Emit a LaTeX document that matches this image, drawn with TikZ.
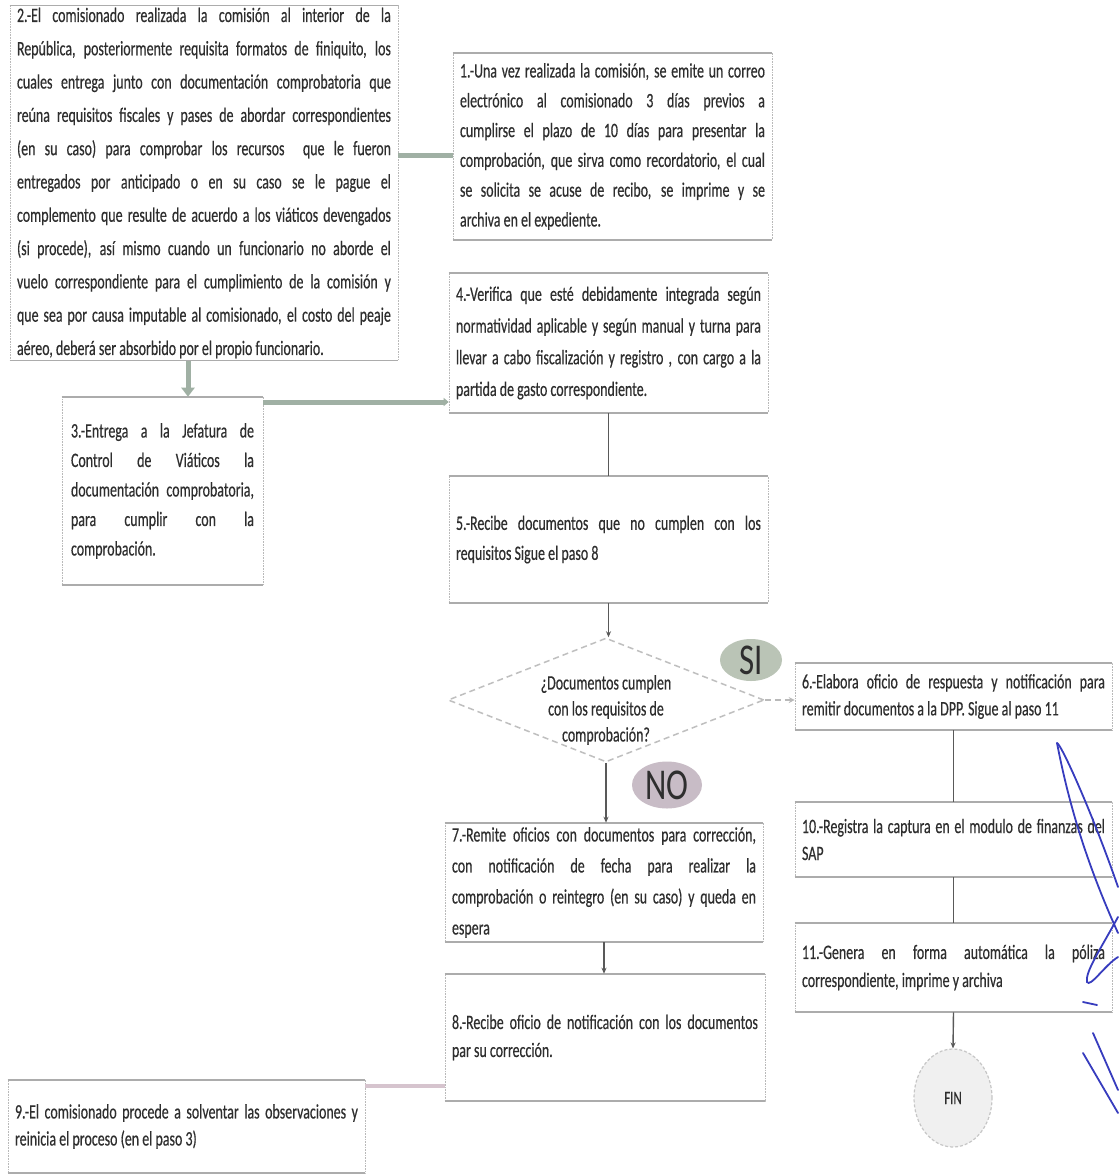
\documentclass[tikz,border=0pt]{standalone}
\usepackage{fontspec}
\setmainfont[FakeStretch=0.68,FakeBold=0.4]{Carlito}
\newfontfamily\bigfont[FakeStretch=0.75]{Carlito}
\usetikzlibrary{shapes.geometric,arrows.meta,calc}
\definecolor{txt}{HTML}{2E2E2E}
\definecolor{barg}{RGB}{160,176,164}
\definecolor{barp}{RGB}{214,196,206}
\definecolor{sifill}{RGB}{186,196,182}
\definecolor{nofill}{RGB}{200,188,198}
\definecolor{sigblue}{RGB}{55,60,190}
\hyphenpenalty=10000
\exhyphenpenalty=10000
\tikzset{
  box/.style={rectangle, draw=gray!55, densely dotted, line width=0.6pt, fill=white,
    align=justify, inner xsep=7pt, inner ysep=2pt, text=txt,
    font=\fontsize{20.5}{30}\selectfont,
    append after command={(\tikzlastnode.north west) edge[solid, draw=gray!65, line width=1.8pt] (\tikzlastnode.north east)
      (\tikzlastnode.south west) edge[solid, draw=gray!65, line width=1.8pt] (\tikzlastnode.south east)}},
  conn/.style={draw=black!65, line width=1.4pt},
  carrow/.style={conn, -{Stealth[length=6pt,width=5pt]}},
  gbar/.style={draw=barg, line width=5pt},
  pbar/.style={draw=barp, line width=4pt},
  dashconn/.style={draw=gray!55, line width=1.5pt, dash pattern=on 6pt off 4pt, -{Stealth[length=6pt,width=6pt]}},
  sig/.style={draw=sigblue, line width=1.8pt, line cap=round},
  tag/.style={ellipse, inner sep=0pt, text=txt, font=\bigfont\fontsize{44}{44}\selectfont}
}
\begin{document}
\begin{tikzpicture}[x=1pt,y=-1pt]
\fill[white] (0,0) rectangle (1119,1176);
\useasboundingbox (0,0) rectangle (1119,1176);

% Box 2
\node[box, minimum width=388pt, minimum height=352pt, text width=374pt,
  font=\fontsize{20.5}{33.3}\selectfont] (b2) at (204,183) {%
2.-El comisionado realizada la comisión al interior de la\linebreak
República, posteriormente requisita formatos de finiquito, los\linebreak
cuales entrega junto con documentación comprobatoria que\linebreak
reúna requisitos fiscales y pases de abordar correspondientes\linebreak
(en su caso) para comprobar los recursos \ que le fueron\linebreak
entregados por anticipado o en su caso se le pague el\linebreak
complemento que resulte de acuerdo a los viáticos devengados\linebreak
(si procede), así mismo cuando un funcionario no aborde el\linebreak
vuelo correspondiente para el cumplimiento de la comisión y\linebreak
que sea por causa imputable al comisionado, el costo del peaje\linebreak
aéreo, deberá ser absorbido por el propio funcionario.};

% Box 1
\node[box, minimum width=319pt, minimum height=187pt, text width=305pt,
  font=\fontsize{20.5}{29.8}\selectfont] (b1) at (612.5,146.5) {%
1.-Una vez realizada la comisión, se emite un correo\linebreak
electrónico al comisionado 3 días previos a\linebreak
cumplirse el plazo de 10 días para presentar la\linebreak
comprobación, que sirva como recordatorio, el cual\linebreak
se solicita se acuse de recibo, se imprime y se\linebreak
archiva en el expediente.};

% Box 4
\node[box, minimum width=319pt, minimum height=140pt, text width=305pt,
  font=\fontsize{20.5}{31.7}\selectfont] (b4) at (608.5,343) {%
4.-Verifica que esté debidamente integrada según\linebreak
normatividad aplicable y según manual y turna para\linebreak
llevar a cabo fiscalización y registro , con cargo a la\linebreak
partida de gasto correspondiente.};

% Box 3
\node[box, minimum width=201pt, minimum height=188pt, text width=183pt, inner xsep=9pt,
  font=\fontsize{20.5}{29.5}\selectfont] (b3) at (162.5,491) {%
3.-Entrega a la Jefatura de\linebreak
Control de Viáticos la\linebreak
documentación comprobatoria,\linebreak
para cumplir con la\linebreak
comprobación.};

% Box 5
\node[box, minimum width=319pt, minimum height=127pt, text width=305pt] (b5) at (608.5,539.5) {%
5.-Recibe documentos que no cumplen con los\linebreak
requisitos Sigue el paso 8};

% Decision
\node[diamond, draw=gray!50, line width=1.5pt, dash pattern=on 6pt off 4pt,
  minimum width=316pt, minimum height=124pt, inner sep=0pt] (dia) at (606,700) {};
\node[align=center, text=txt, inner sep=0pt, font=\fontsize{20.5}{26}\selectfont] (diat) at (606,710) {%
¿Documentos cumplen\\con los requisitos de\\comprobación?};

\node[tag, fill=sifill, minimum width=62pt, minimum height=42pt] (si) at (751,660) {SI};
\node[tag, fill=nofill, minimum width=70pt, minimum height=47pt] (no) at (667,785) {NO};

% Box 6
\node[box, minimum width=317pt, minimum height=67pt, text width=303pt,
  font=\fontsize{20.5}{27}\selectfont] (b6) at (953.5,696.5) {%
6.-Elabora oficio de respuesta y notificación para\linebreak
remitir documentos a la DPP. Sigue al paso 11};

% Box 10
\node[box, minimum width=317pt, minimum height=75pt, text width=303pt,
  font=\fontsize{20.5}{27}\selectfont] (b10) at (953.5,839.5) {%
10.-Registra la captura en el modulo de finanzas del\linebreak
SAP};

% Box 11
\node[box, minimum width=317pt, minimum height=89pt, text width=303pt,
  font=\fontsize{20.5}{28}\selectfont] (b11) at (953.5,967.5) {%
11.-Genera en forma automática la póliza\linebreak
correspondiente, imprime y archiva};

% FIN
\node[ellipse, draw=gray!45, line width=1.2pt, densely dashed, fill=gray!12, text=txt,
  minimum width=78pt, minimum height=98pt, inner sep=0pt,
  font=\fontsize{19}{19}\selectfont] (fin) at (953,1098) {FIN};

% Box 7
\node[box, minimum width=318pt, minimum height=119pt, text width=304pt,
  font=\fontsize{20.5}{31}\selectfont] (b7) at (604,882.5) {%
7.-Remite oficios con documentos para corrección,\linebreak
con notificación de fecha para realizar la\linebreak
comprobación o reintegro (en su caso) y queda en\linebreak
espera};

% Box 8
\node[box, minimum width=320pt, minimum height=127pt, text width=306pt,
  font=\fontsize{20.5}{28}\selectfont] (b8) at (605,1037.5) {%
8.-Recibe oficio de notificación con los documentos\linebreak
par su corrección.};

% Box 9
\node[box, minimum width=357pt, minimum height=93pt, text width=343pt,
  font=\fontsize{20.5}{27}\selectfont] (b9) at (186.5,1126.5) {%
9.-El comisionado procede a solventar las observaciones y\linebreak
reinicia el proceso (en el paso 3)};

% helper coordinates
\coordinate (x23) at (188,0);
\coordinate (y34) at (0,402);
\coordinate (y89) at (0,1086);

% Connectors
\draw[gbar] ([yshift=-8.5pt]b1.west -| b2.east) -- ([yshift=-8.5pt]b1.west);
\draw[gbar, -{Triangle[length=9pt,width=13pt]}] (b2.south -| x23) -- (b3.north -| x23);
\draw[gbar, -{Triangle[length=5pt,width=8pt]}] (b3.east |- y34) -- (b4.west |- y34);
\draw[conn] (b4.south) -- (b5.north);
\draw[carrow] (b5.south) -- (dia.north -| b5.south);
\draw[dashconn] (dia.east) -- (dia.east -| b6.west);
\draw[carrow] (dia.south) -- (dia.south |- b7.north);
\draw[conn] (b6.south) -- (b10.north);
\draw[conn] (b10.south) -- (b11.north);
\draw[carrow] (b11.south) -- (fin.north);
\draw[carrow] (b7.south) -- (b7.south |- b8.north);
\draw[pbar] (b8.west |- y89) -- (b9.east |- y89);

% Signature strokes
\draw[sig] (1057,743) .. controls (1068,800) and (1085,860) .. (1118,933);
\draw[sig] (1057,743) .. controls (1062,745) and (1095,820) .. (1118,887);
\draw[sig] (1118,917) .. controls (1100,950) and (1085,972) .. (1087,982) .. controls (1090,988) and (1105,965) .. (1118,957);
\draw[sig] (1083,1002) -- (1097,1005);
\draw[sig] (1093,1033) -- (1118,1090);
\draw[sig] (1083,1053) -- (1118,1113);
\end{tikzpicture}
\end{document}
